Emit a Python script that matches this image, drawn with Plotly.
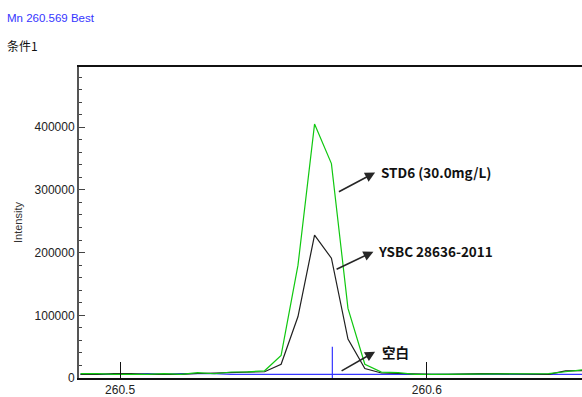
import plotly.graph_objects as go

# ---- data ----
wavelength = [260.4871, 260.4926, 260.4980, 260.5035, 260.5089, 260.5144, 260.5198,
              260.5253, 260.5307, 260.5362, 260.5416, 260.5471, 260.5525, 260.5580,
              260.5634, 260.5689, 260.5743, 260.5798, 260.5852, 260.5907, 260.5961,
              260.6016, 260.6070, 260.6125, 260.6179, 260.6234, 260.6288, 260.6343,
              260.6397, 260.6452, 260.6506]

std6 = [7100, 7100, 5800, 5800, 5800, 7100, 5800, 8500, 6800, 9600, 9800, 11500,
        36000, 180000, 405000, 342000, 111000, 22000, 9500, 8600, 5800, 5800, 5800,
        5800, 5800, 5800, 5800, 5800, 7000, 10000, 12800]

ysbc = [5800, 5800, 7100, 7100, 5800, 5800, 5800, 7200, 8000, 8600, 8800, 10000,
        22000, 98000, 228000, 191000, 62000, 15000, 8000, 7200, 5800, 5800, 5800,
        7000, 7000, 7000, 7000, 7000, 5800, 11300, 11800]

blank = [5800, 5800, 5800, 5800, 7100, 5800, 7100, 7200, 6800, 5800, 5800, 5800,
         5800, 5800, 5800, 5800, 5800, 5800, 5800, 5800, 7000, 7000, 7000, 5800,
         5800, 5800, 5800, 5800, 5800, 5800, 5800]

marker_wl = [260.5692, 260.5692]
marker_int = [0, 50000]

x_tick_vals = [260.5, 260.6]
x_tick_text = ["260.5", "260.6"]
y_tick_vals = [0, 100000, 200000, 300000, 400000]
y_tick_text = ["0", "100000", "200000", "300000", "400000"]

labels = ["STD6 (30.0mg/L)", "YSBC 28636-2011", "空白"]
arrow_tail_x = [260.57085, 260.5701, 260.57173]
arrow_tail_y = [295700, 172300, 10050]
arrow_head_x = [260.58314, 260.58259, 260.58314]
arrow_head_y = [327600, 201500, 41970]
label_x = [260.58443, 260.58332, 260.58475]
label_y = [329200, 203100, 41000]

title_text = "Mn 260.569 Best"
subtitle_text = "条件1"

GREEN = "#10c810"
BLACK = "#202020"
BLUE = "#3535ff"

fig = go.Figure()
fig.add_trace(go.Scatter(x=wavelength, y=blank, mode="lines", name="空白",
                         line=dict(color=BLUE, width=1.2)))
fig.add_trace(go.Scatter(x=marker_wl, y=marker_int, mode="lines", name="Mn 260.569",
                         line=dict(color=BLUE, width=1.2)))
fig.add_trace(go.Scatter(x=wavelength, y=ysbc, mode="lines", name="YSBC 28636-2011",
                         line=dict(color=BLACK, width=1.2)))
fig.add_trace(go.Scatter(x=wavelength, y=std6, mode="lines", name="STD6 (30.0mg/L)",
                         line=dict(color=GREEN, width=1.2)))

annotations = []
for i, lab in enumerate(labels):
    annotations.append(dict(
        x=arrow_head_x[i], y=arrow_head_y[i], xref="x", yref="y",
        ax=arrow_tail_x[i], ay=arrow_tail_y[i], axref="x", ayref="y",
        text="", showarrow=True, arrowhead=2, arrowsize=1.25, arrowwidth=1.6,
        arrowcolor="#262626", standoff=0, startstandoff=0))
    annotations.append(dict(
        x=label_x[i], y=label_y[i], xref="x", yref="y", text="<b>" + lab + "</b>",
        showarrow=False, xanchor="left", yanchor="middle",
        font=dict(family="Noto Sans CJK SC, Liberation Sans, sans-serif",
                  size=13.5, color="#111")))

PLOT_W = 503
PLOT_H = 311

annotations += [
    dict(x=(5 - 79) / PLOT_W, y=(378 - 18) / PLOT_H, xref="paper", yref="paper",
         text=title_text, showarrow=False, xanchor="left", yanchor="middle",
         font=dict(family="Liberation Sans, Arial, sans-serif", size=11.5, color=BLUE)),
    dict(x=(5 - 79) / PLOT_W, y=(378 - 45) / PLOT_H, xref="paper", yref="paper",
         text=subtitle_text, showarrow=False, xanchor="left", yanchor="middle",
         font=dict(family="Noto Sans CJK SC, sans-serif", size=12, color="#111")),
]

fig.update_layout(
    width=582, height=397,
    margin=dict(l=79, r=0, t=67, b=19, autoexpand=False),
    paper_bgcolor="white", plot_bgcolor="white",
    showlegend=False,
    font=dict(family="Liberation Sans, Arial, sans-serif", size=12, color="#333"),
    annotations=annotations,
)

fig.update_xaxes(
    range=[260.4866, 260.6506], tickmode="array", tickvals=x_tick_vals,
    ticktext=x_tick_text, ticks="inside", ticklen=16, tickwidth=1, tickcolor="#111",
    showline=True, linecolor="#111", linewidth=2, mirror=True, automargin=False,
    showgrid=False, zeroline=False, tickfont=dict(size=12, color="#222"),
)
fig.update_yaxes(
    range=[0, 496000], tickmode="array", tickvals=y_tick_vals, ticktext=y_tick_text,
    ticks="inside", ticklen=6, tickwidth=1, tickcolor="#444", automargin=False,
    minor=dict(dtick=20000, ticks="inside", ticklen=3, tickcolor="#444", showgrid=False),
    showline=True, linecolor="#555", linewidth=2,
    showgrid=False, zeroline=False, tickfont=dict(size=12, color="#222"),
    title=dict(text="Intensity", font=dict(size=11, color="#333"), standoff=10),
)

fig.write_html("out.html", config={"displayModeBar": False},
               post_script="document.body.style.margin='0';")
